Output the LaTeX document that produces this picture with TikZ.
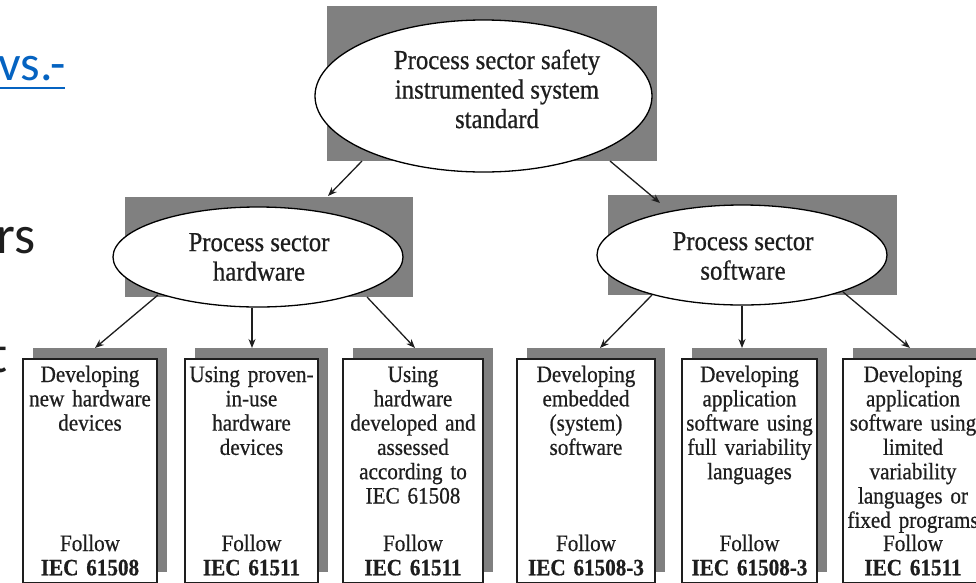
\documentclass[tikz,border=0pt]{standalone}
\usepackage{fontspec}
\setmainfont[FakeStretch=0.9,FakeBold=0.6]{Liberation Serif}
\newfontfamily\slidefont{Carlito}
\usetikzlibrary{shapes.geometric,arrows.meta,calc}
\definecolor{shadowgray}{RGB}{128,128,128}
\definecolor{inkc}{RGB}{30,30,30}
\definecolor{linkblue}{RGB}{5,99,193}
\begin{document}
\begin{tikzpicture}[x=1pt,y=-1pt,
  shade/.style={fill=shadowgray, draw=none, inner sep=0pt, outer sep=0pt},
  ell/.style={ellipse, draw=black, line width=1.3pt, fill=white, inner sep=0pt},
  boxnode/.style={draw=inkc, line width=1.8pt, fill=white, inner sep=0pt, outer sep=0pt, anchor=north west, minimum height=224pt},
  elltext/.style={font=\fontsize{27.5}{29.5}\selectfont, align=center, text=inkc, inner sep=0pt},
  boxtext/.style={font=\fontsize{23.5}{24.3}\selectfont, align=center, text=inkc, text width=150pt, anchor=base, inner sep=0pt},
  slidetext/.style={font=\slidefont\fontsize{54}{60}\selectfont, anchor=base west, inner sep=0pt},
  conn/.style={-{Stealth[length=9pt,width=7pt]}, line width=1.3pt, draw=inkc}
]
\useasboundingbox (0,0) rectangle (976,582);
\clip (0,0) rectangle (976,582);

% slide fragments
\node[slidetext, text=linkblue, font=\slidefont\fontsize{50}{60}\selectfont] (vs) at (-2,80) {vs.-};
\draw[linkblue, line width=2.5pt] ($(vs.base west)+(0,8)$) -- ($(vs.base east)+(0,8)$);
\node[slidetext, text=inkc] (rs) at (-4,253) {rs};
\node[slidetext, text=inkc] (tt) at (-11,372) {t};

% top level
\node[shade, minimum width=330pt, minimum height=155pt] (toprect) at (492,83.5) {};
\node[ell, minimum width=337pt, minimum height=152pt] (topell) at (483.5,96) {};
\node[elltext] (toptext) at (497,89) {Process sector safety\\instrumented system\\standard};

% second level
\node[shade, minimum width=288pt, minimum height=100pt] (hwrect) at (269,247) {};
\node[ell, minimum width=290pt, minimum height=100pt] (hwell) at (258,257) {};
\node[elltext] (hwtext) at (259,257) {Process sector\\hardware};

\node[shade, minimum width=289pt, minimum height=100pt] (swrect) at (752.5,245) {};
\node[ell, minimum width=290pt, minimum height=100pt] (swell) at (742,255) {};
\node[elltext] (swtext) at (743,256) {Process sector\\software};

% shadows of boxes
\node[shade, anchor=north west, minimum width=134pt, minimum height=224pt] (s1) at (33,348) {};
\node[shade, anchor=north west, minimum width=133pt, minimum height=224pt] (s2) at (195,348) {};
\node[shade, anchor=north west, minimum width=140pt, minimum height=224pt] (s3) at (353,348) {};
\node[shade, anchor=north west, minimum width=138pt, minimum height=224pt] (s4) at (527,348) {};
\node[shade, anchor=north west, minimum width=135pt, minimum height=224pt] (s5) at (692,348) {};
\node[shade, anchor=north west, minimum width=140pt, minimum height=224pt] (s6) at (853,348) {};

% boxes
\node[boxnode, minimum width=134pt] (b1) at (23,359) {};
\node[boxnode, minimum width=133pt] (b2) at (185,359) {};
\node[boxnode, minimum width=140pt] (b3) at (343,359) {};
\node[boxnode, minimum width=138pt] (b4) at (517,359) {};
\node[boxnode, minimum width=135pt] (b5) at (682,359) {};
\node[boxnode, minimum width=140pt] (b6) at (843,359) {};

% box texts
\node[boxtext] (t1) at (b1.north |- 0,382) {Developing\\new hardware\\devices};
\node[boxtext] (t2) at (b2.north |- 0,382) {Using proven-\\in-use\\hardware\\devices};
\node[boxtext] (t3) at (b3.north |- 0,382) {Using\\hardware\\developed and\\assessed\\according to\\IEC 61508};
\node[boxtext] (t4) at (b4.north |- 0,382) {Developing\\embedded\\(system)\\software};
\node[boxtext] (t5) at (b5.north |- 0,382) {Developing\\application\\software using\\full variability\\languages};
\node[boxtext] (t6) at (b6.north |- 0,382) {Developing\\application\\software using\\limited\\variability\\languages or\\fixed programs};

\node[boxtext] (f1) at (b1.north |- 0,551) {Follow\\\textbf{IEC 61508}};
\node[boxtext] (f2) at (b2.north |- 0,551) {Follow\\\textbf{IEC 61511}};
\node[boxtext] (f3) at (b3.north |- 0,551) {Follow\\\textbf{IEC 61511}};
\node[boxtext] (f4) at (b4.north |- 0,551) {Follow\\\textbf{IEC 61508-3}};
\node[boxtext] (f5) at (b5.north |- 0,551) {Follow\\\textbf{IEC 61508-3}};
\node[boxtext] (f6) at (b6.north |- 0,551) {Follow\\\textbf{IEC 61511}};

% connectors
\draw[conn] ($(toprect.south west)+(35,0)$) -- ($(hwrect.north west)+(203,-1)$);
\draw[conn] ($(toprect.south west)+(283,0)$) -- ($(swrect.north west)+(52,8)$);

\draw[conn] ($(hwrect.south west)+(33,-2)$) -- ($(s1.north west)+(62,0)$);
\coordinate (hwm) at ($(hwell.south)+(-6,0)$);
\draw[conn] (hwm) -- (hwm |- s2.north);
\draw[conn] ($(hwrect.south east)+(-46,0)$) -- ($(s3.north west)+(62,0)$);

\draw[conn] ($(swrect.south west)+(44,0)$) -- ($(s4.north west)+(73,0)$);
\draw[conn] (swell.south) -- (swell.south |- s5.north);
\draw[conn] ($(swrect.south east)+(-54,-3)$) -- ($(s6.north west)+(57,0)$);
\end{tikzpicture}
\end{document}
